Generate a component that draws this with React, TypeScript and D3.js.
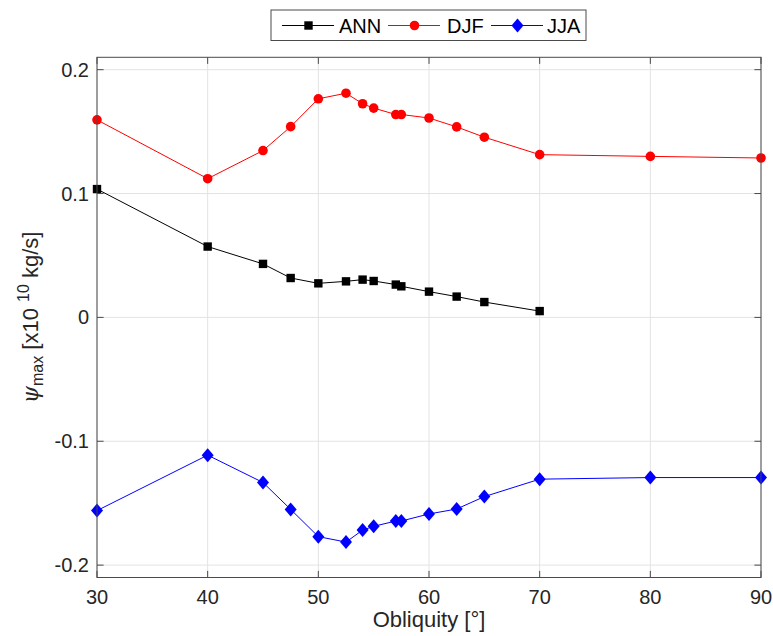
import React from "react";
import * as d3 from "d3";

const obliquity = [30, 40, 45, 47.5, 50, 52.5, 54, 55, 57, 57.5, 60, 62.5, 65, 70, 80, 90];
const annValues = [0.1036, 0.0572, 0.0432, 0.0318, 0.0275, 0.0291, 0.0305, 0.0294, 0.0265, 0.0251, 0.0208, 0.0168, 0.0124, 0.0051];
const djfValues = [0.1595, 0.112, 0.1347, 0.154, 0.1765, 0.181, 0.1725, 0.169, 0.1638, 0.1638, 0.161, 0.1538, 0.1455, 0.1314, 0.130, 0.1287];
const jjaValues = [-0.156, -0.1112, -0.1333, -0.155, -0.177, -0.1814, -0.1717, -0.1687, -0.1644, -0.1644, -0.1587, -0.1547, -0.1447, -0.1306, -0.1293, -0.1293];
const xTicks = [30, 40, 50, 60, 70, 80, 90];
const yTicks = [-0.2, -0.1, 0, 0.1, 0.2];
const seriesNames = ["ANN", "DJF", "JJA"];

const W = 773, H = 636;
const left = 97, right = 761, top = 57.3, bottom = 577.5;
const FONT = "'Liberation Sans', Arial, Helvetica, sans-serif";
const AX = "#262626";
const BOX = "#4a4a4a";

function Marker({ kind, x, y, color }: { kind: string; x: number; y: number; color: string }) {
  if (kind === "square") return <rect x={x - 4.2} y={y - 4.2} width={8.4} height={8.4} fill={color} />;
  if (kind === "circle") return <circle cx={x} cy={y} r={4.8} fill={color} />;
  return <path d={`M${x},${y - 7} L${x + 6},${y} L${x},${y + 7} L${x - 6},${y} Z`} fill={color} />;
}

export default function App() {
  const x = d3.scaleLinear().domain([30, 90]).range([left, right]);
  const y = d3.scaleLinear().domain([-0.21, 0.21]).range([bottom, top]);

  const series = [
    { name: seriesNames[0], values: annValues, color: "#000000", kind: "square" },
    { name: seriesNames[1], values: djfValues, color: "#ff0000", kind: "circle" },
    { name: seriesNames[2], values: jjaValues, color: "#0000ff", kind: "diamond" },
  ];

  const line = d3
    .line<[number, number]>()
    .x((d) => x(d[0]))
    .y((d) => y(d[1]));

  const fmt = (v: number) => (v === 0 ? "0" : v.toFixed(1));

  const legendItems = [
    { lx: 282, tx: 339 },
    { lx: 388, tx: 447 },
    { lx: 491, tx: 547 },
  ];
  const legY = 25.5;

  return (
    <svg
      width={W}
      height={H}
      style={{ position: "absolute", left: 0, top: 0, display: "block", background: "#fff" }}
      fontFamily={FONT}
    >
      <rect x={0} y={0} width={W} height={H} fill="#fff" />
      {/* grid */}
      {xTicks.map((t) => (
        <line key={"gx" + t} x1={x(t)} x2={x(t)} y1={top} y2={bottom} stroke="#e3e3e3" strokeWidth={1} />
      ))}
      {yTicks.map((t) => (
        <line key={"gy" + t} x1={left} x2={right} y1={y(t)} y2={y(t)} stroke="#e3e3e3" strokeWidth={1} />
      ))}
      {/* series */}
      {series.map((s) => {
        const pts: [number, number][] = s.values.map((v, i) => [obliquity[i], v]);
        return (
          <g key={s.name}>
            <path d={line(pts) || ""} fill="none" stroke={s.color} strokeWidth={1} />
            {pts.map((p, i) => (
              <Marker key={i} kind={s.kind} x={x(p[0])} y={y(p[1])} color={s.color} />
            ))}
          </g>
        );
      })}
      {/* box */}
      <rect x={left} y={top} width={right - left} height={bottom - top} fill="none" stroke={BOX} strokeWidth={1} />
      {/* ticks */}
      {xTicks.map((t) => (
        <g key={"tx" + t}>
          <line x1={x(t)} x2={x(t)} y1={bottom} y2={bottom - 6.6} stroke={BOX} />
          <line x1={x(t)} x2={x(t)} y1={top} y2={top + 6.6} stroke={BOX} />
          <text x={x(t)} y={604} textAnchor="middle" fontSize={20} fill={AX}>
            {t}
          </text>
        </g>
      ))}
      {yTicks.map((t) => (
        <g key={"ty" + t}>
          <line x1={left} x2={left + 6.6} y1={y(t)} y2={y(t)} stroke={BOX} />
          <line x1={right} x2={right - 6.6} y1={y(t)} y2={y(t)} stroke={BOX} />
          <text x={89} y={y(t) + 7} textAnchor="end" fontSize={20} fill={AX}>
            {fmt(t)}
          </text>
        </g>
      ))}
      {/* x label */}
      <text x={(left + right) / 2} y={627} textAnchor="middle" fontSize={22} fill={AX}>
        Obliquity [°]
      </text>
      {/* y label */}
      <text
        transform={`translate(38, ${(top + bottom) / 2}) rotate(-90)`}
        textAnchor="middle"
        fontSize={22}
        fill={AX}
      >
        <tspan fontStyle="italic" fontFamily="'DejaVu Serif', serif">ψ</tspan>
        <tspan fontSize={16} dy={5}>max</tspan>
        <tspan dy={-5}> [x10 </tspan>
        <tspan fontSize={16} dy={-9}>10</tspan>
        <tspan dy={9}> kg/s]</tspan>
      </text>
      {/* legend */}
      <rect x={271} y={10} width={315} height={30.5} fill="#fff" stroke={BOX} strokeWidth={1} />
      {series.map((s, i) => {
        const it = legendItems[i];
        return (
          <g key={"leg" + s.name}>
            <line x1={it.lx} x2={it.lx + 52} y1={legY} y2={legY} stroke={s.color} strokeWidth={1} />
            <Marker kind={s.kind} x={it.lx + 26.5} y={legY} color={s.color} />
            <text x={it.tx} y={legY + 7} fontSize={20} fill="#000">
              {s.name}
            </text>
          </g>
        );
      })}
    </svg>
  );
}
